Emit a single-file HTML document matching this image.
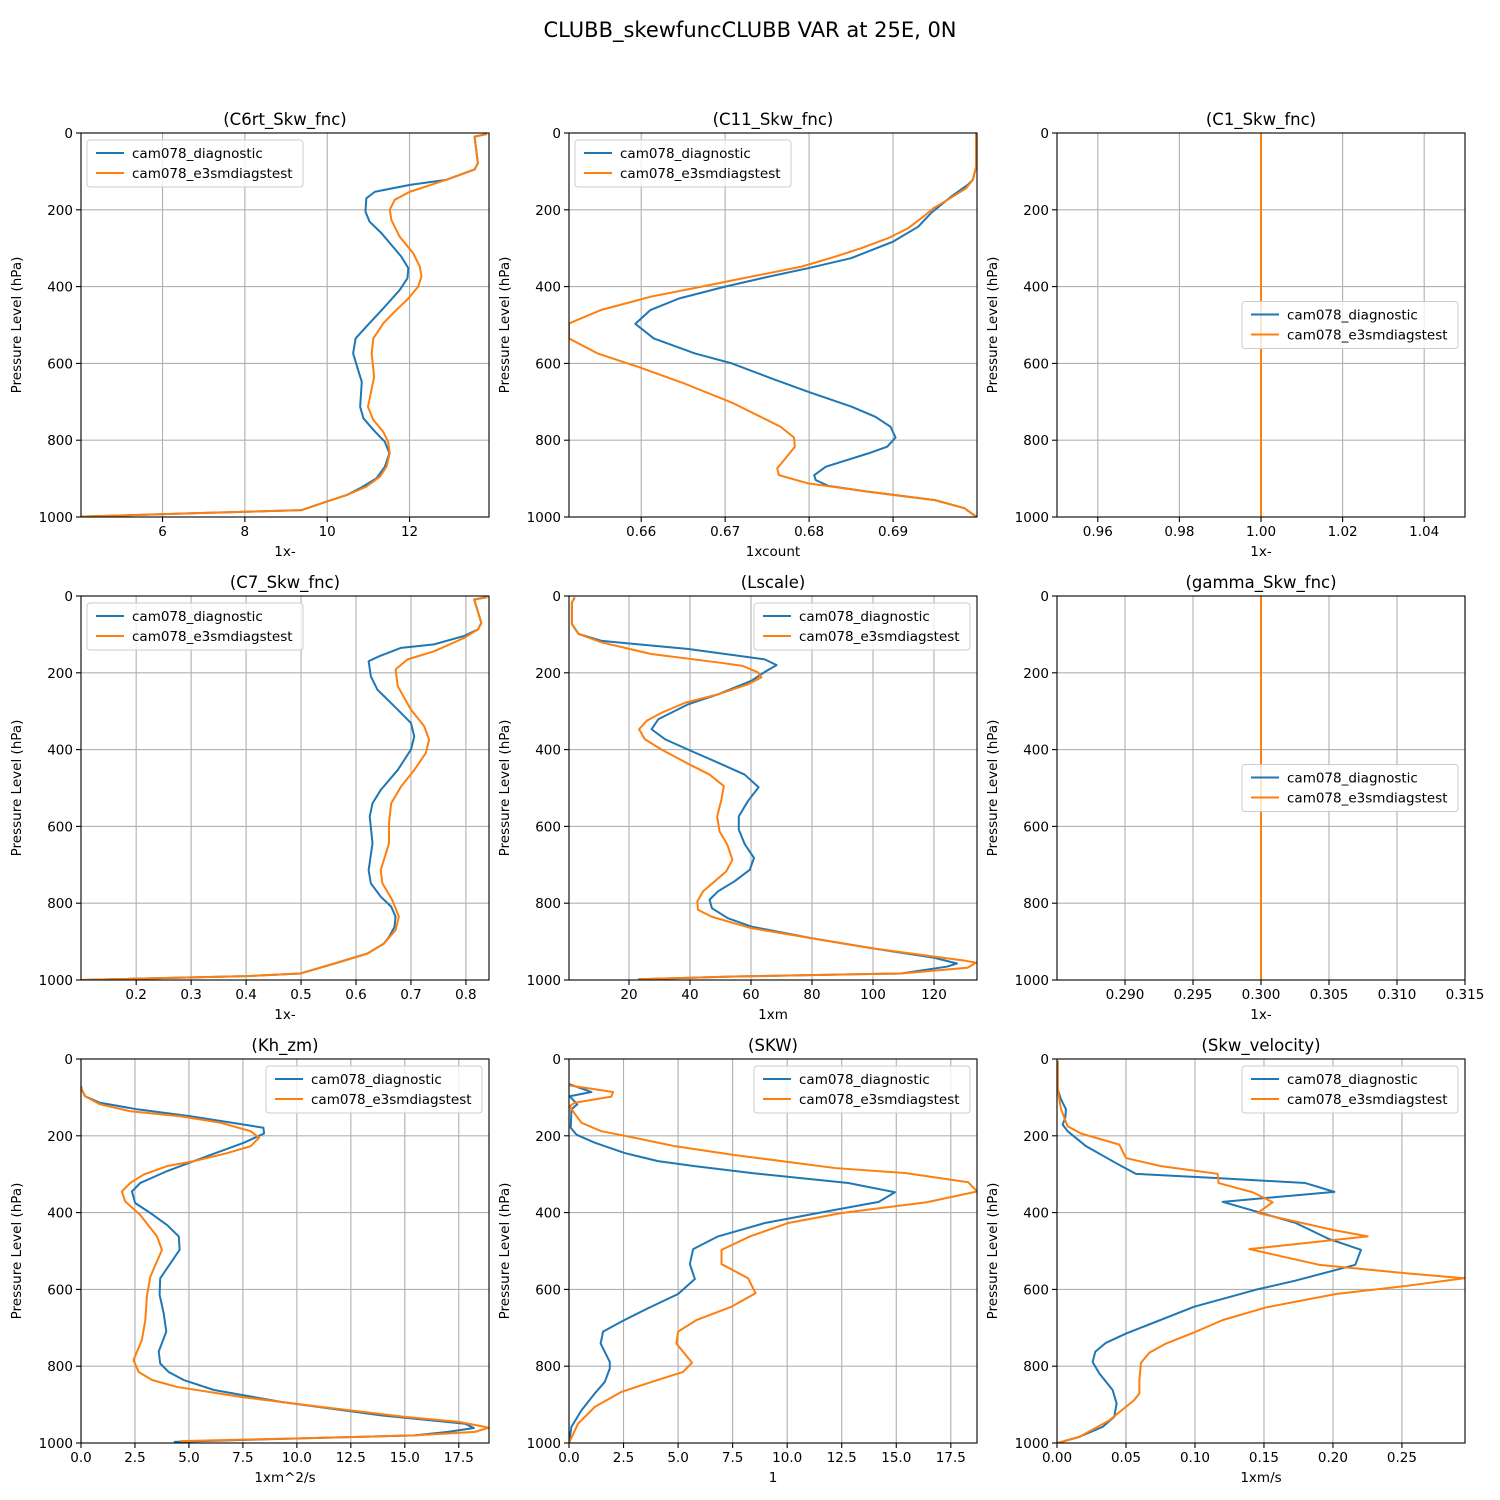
<!DOCTYPE html>
<html><head><meta charset="utf-8"><style>
html,body{margin:0;padding:0;background:#fff;}
svg{display:block;font-family:"DejaVu Sans","Liberation Sans",sans-serif;}
</style></head>
<body>
<svg id="fig" width="1500" height="1500" viewBox="0 0 1500 1500" xmlns="http://www.w3.org/2000/svg">
<rect width="1500" height="1500" fill="#fff"/>
<text x="750" y="37" font-size="21" text-anchor="middle">CLUBB_skewfuncCLUBB VAR at 25E, 0N</text>
</svg>
<script>
// ---- data arrays (pressure in hPa, values in data units) ----
const yTicks = [0,200,400,600,800,1000];
const yTickLabels = ["0","200","400","600","800","1000"];

const c6rtBlueP = [2.6,9.5,79,95,122,135,153,170,205,231,261,322,352,378,409,457,509,535,574,617,648,713,743,773,804,834,869,899,925,943,960,982,990,999];
const c6rtBlueV = [13.88,13.58,13.66,13.58,12.89,12.01,11.16,10.95,10.93,11.03,11.32,11.80,11.97,11.95,11.76,11.36,10.91,10.69,10.63,10.75,10.84,10.80,10.88,11.12,11.40,11.51,11.40,11.20,10.80,10.47,9.98,9.38,6.83,4.02];
const c6rtOrP = [2.6,9.5,79,95,122,153,174,200,227,270,313,348,374,400,431,465,496,535,574,635,656,713,747,778,804,834,869,895,921,943,960,982,990,999];
const c6rtOrV = [13.88,13.58,13.66,13.58,12.89,12.01,11.64,11.52,11.56,11.76,12.09,12.25,12.29,12.21,11.97,11.64,11.36,11.12,11.08,11.14,11.10,10.99,11.12,11.36,11.48,11.52,11.44,11.28,10.95,10.47,9.98,9.38,6.83,4.02];

const c11BlueP = [1,88,122,135,166,209,244,283,326,352,374,400,431,461,497,535,574,600,643,674,713,739,765,793,817,834,869,891,904,919,934,956,977,999];
const c11BlueV = [0.6999,0.6999,0.6995,0.6989,0.6969,0.6945,0.6930,0.6900,0.6850,0.6799,0.6752,0.6700,0.6645,0.6611,0.6593,0.6615,0.6664,0.6708,0.6760,0.6799,0.6851,0.6879,0.6897,0.6903,0.6893,0.6871,0.6820,0.6806,0.6808,0.6823,0.6870,0.6950,0.6985,0.6999];
const c11OrP = [1,88,122,144,174,196,218,248,274,300,322,348,374,400,426,461,496,535,574,608,652,704,765,793,817,847,873,891,912,934,956,977,999];
const c11OrV = [0.6999,0.6999,0.6995,0.6987,0.6965,0.6948,0.6936,0.6918,0.6894,0.6862,0.6831,0.6791,0.6731,0.6672,0.6612,0.6552,0.6514,0.6514,0.6548,0.6595,0.6651,0.6710,0.6766,0.6782,0.6783,0.6772,0.6762,0.6764,0.6798,0.6870,0.6950,0.6985,0.6999];

const constP = [0,100,200,300,400,500,600,700,800,900,1000];
const c1BlueV = [1,1,1,1,1,1,1,1,1,1,1];
const c1OrV = [1,1,1,1,1,1,1,1,1,1,1];

const c7BlueP = [3,9,70,87,104,126,135,157,170,209,244,296,331,366,400,453,505,540,574,644,714,748,783,809,835,862,888,905,931,957,983,990,1000];
const c7BlueV = [0.839,0.815,0.828,0.822,0.797,0.742,0.682,0.642,0.623,0.627,0.639,0.676,0.700,0.706,0.700,0.676,0.645,0.630,0.625,0.630,0.623,0.627,0.645,0.664,0.672,0.670,0.660,0.651,0.621,0.561,0.499,0.40,0.10];
const c7OrP = [3,9,70,87,109,144,165,191,235,296,339,374,409,453,496,540,592,644,714,748,792,835,870,905,931,957,983,990,1000];
const c7OrV = [0.839,0.815,0.828,0.822,0.797,0.742,0.694,0.672,0.676,0.700,0.724,0.733,0.727,0.706,0.682,0.664,0.660,0.660,0.645,0.648,0.666,0.678,0.672,0.651,0.621,0.561,0.499,0.40,0.10];

const lsBlueP = [3.5,16.5,73,99,117,138,165,180,195,221,256,282,321,347,373,404,434,465,498,534,574,608,647,682,713,743,769,791,813,839,861,891,917,942,957,965,983,991,998];
const lsBlueV = [2.19,1.28,1.28,3.5,11.1,39.5,64.5,68.4,65.1,60.1,49.2,39.4,29.6,27.4,31.8,40.5,49.2,57.9,62.5,59.0,56.0,56.0,58.0,61.0,59.6,54.6,49.2,46.4,47.2,52.4,60.1,79.7,99.4,120.1,127.5,124.4,109.2,54.6,23.0];
const lsOrP = [3.5,16.5,73,99,121,151,173,182,199,212,230,256,278,304,325,347,373,400,439,465,495,534,574,613,647,687,717,743,769,795,817,835,865,891,917,939,950,955,968,983,991,998];
const lsOrV = [2.19,1.28,1.28,3.5,11.1,27.3,49.2,57.3,62.3,63.4,59.0,49.2,38.4,30.7,25.8,23.3,25.2,30.7,39.9,46.4,51.1,50.2,48.9,49.7,52.2,53.9,51.9,48.1,44.3,42.4,42.6,47.0,60.1,79.7,99.4,120.1,130.4,133.7,131.0,109.2,54.6,23.0];

const c_gBlueV = [0.3,0.3,0.3,0.3,0.3,0.3,0.3,0.3,0.3,0.3,0.3];
const c_gOrV = [0.3,0.3,0.3,0.3,0.3,0.3,0.3,0.3,0.3,0.3,0.3];

const khBlueP = [70,79,97,114,131,149,171,179,194,218,253,292,323,345,375,401,432,462,497,571,614,662,710,762,793,815,836,862,893,928,950,961,971,980,987,997];
const khBlueV = [0,0.03,0.19,0.88,2.6,5.07,7.55,8.45,8.48,7.55,5.84,3.98,2.74,2.36,2.51,3.21,3.98,4.53,4.57,3.67,3.64,3.83,3.95,3.60,3.67,4.06,4.76,6.16,9.26,13.91,17.8,18.2,17.0,15.46,10.81,4.3];
const khOrP = [70,79,97,118,136,149,166,188,205,227,245,266,279,301,323,345,371,406,462,497,567,619,680,732,784,815,836,854,880,906,932,945,960,971,980,987,995];
const khOrV = [0,0.03,0.19,0.88,2.28,4.6,6.47,7.86,8.25,7.86,6.78,5.23,3.98,2.9,2.28,1.89,2.05,2.74,3.52,3.75,3.21,3.05,2.98,2.82,2.43,2.67,3.29,4.45,7.4,11.12,15.0,17.5,18.9,18.25,15.46,10.81,4.6];

const skwBlueP = [66,86,97,118,131,179,197,218,245,266,279,297,323,347,372,393,427,462,495,534,573,612,649,684,710,741,789,806,841,871,915,958,1000];
const skwBlueV = [0.03,1.03,0.03,0.38,0.11,0.08,0.34,1.18,2.56,4.08,5.76,8.36,12.8,14.94,14.2,12.19,8.98,6.83,5.69,5.54,5.77,5.0,3.62,2.4,1.56,1.45,1.87,1.87,1.64,1.18,0.57,0.11,0];
const skwOrP = [69,86,98,114,123,136,166,188,199,227,249,284,297,321,345,373,401,427,462,497,534,571,610,645,680,710,741,791,815,841,867,906,950,1000];
const skwOrV = [0.03,2.02,1.94,0.26,0.03,0.18,0.57,1.48,2.48,4.85,7.45,12.2,15.4,18.3,18.7,16.4,12.5,10.05,8.29,6.99,6.99,8.21,8.55,7.45,5.84,5.0,4.92,5.64,5.23,3.78,2.4,1.18,0.41,0];

const svBlueP = [5,79,105,131,153,171,188,227,271,299,310,323,346,372,427,469,497,536,577,601,645,715,739,762,789,819,862,897,932,958,984,1000];
const svBlueV = [0.0005,0.0005,0.0029,0.0065,0.006,0.0041,0.0077,0.021,0.0427,0.0572,0.1152,0.180,0.2010,0.120,0.173,0.1973,0.2203,0.2162,0.173,0.144,0.0995,0.050,0.0355,0.0278,0.0258,0.0307,0.0403,0.0432,0.0415,0.0331,0.0162,0.0005];
const svOrP = [5,79,131,175,194,223,258,279,299,323,347,373,401,445,462,495,536,558,571,591,612,647,680,710,741,765,791,836,871,888,941,984,1000];
const svOrV = [0.0005,0.0005,0.0029,0.0077,0.0174,0.0452,0.0500,0.0754,0.1164,0.1171,0.1418,0.1563,0.1454,0.1998,0.2251,0.1394,0.1901,0.2529,0.2952,0.2529,0.2022,0.1514,0.1200,0.1007,0.0790,0.0669,0.0609,0.0597,0.0597,0.0560,0.0379,0.0162,0.0005];

const xTicks1 = [6,8,10,12];            const xLabels1 = ["6","8","10","12"];
const xTicks2 = [0.66,0.67,0.68,0.69];  const xLabels2 = ["0.66","0.67","0.68","0.69"];
const xTicks3 = [0.96,0.98,1.00,1.02,1.04]; const xLabels3 = ["0.96","0.98","1.00","1.02","1.04"];
const xTicks4 = [0.2,0.3,0.4,0.5,0.6,0.7,0.8]; const xLabels4 = ["0.2","0.3","0.4","0.5","0.6","0.7","0.8"];
const xTicks5 = [20,40,60,80,100,120];  const xLabels5 = ["20","40","60","80","100","120"];
const xTicks6 = [0.290,0.295,0.300,0.305,0.310,0.315]; const xLabels6 = ["0.290","0.295","0.300","0.305","0.310","0.315"];
const xTicks7 = [0,2.5,5,7.5,10,12.5,15,17.5]; const xLabels7 = ["0.0","2.5","5.0","7.5","10.0","12.5","15.0","17.5"];
const xTicks8 = [0,2.5,5,7.5,10,12.5,15,17.5]; const xLabels8 = ["0.0","2.5","5.0","7.5","10.0","12.5","15.0","17.5"];
const xTicks9 = [0,0.05,0.10,0.15,0.20,0.25]; const xLabels9 = ["0.00","0.05","0.10","0.15","0.20","0.25"];

const panels = [
 {id:"c6rt", title:"(C6rt_Skw_fnc)", xl:"1x-", col:0,row:0, xmin:4.02,xmax:13.93, xt:xTicks1, xlab:xLabels1, bp:c6rtBlueP,bv:c6rtBlueV,op:c6rtOrP,ov:c6rtOrV, leg:"ul"},
 {id:"c11", title:"(C11_Skw_fnc)", xl:"1xcount", col:1,row:0, xmin:0.6514,xmax:0.7000, xt:xTicks2, xlab:xLabels2, bp:c11BlueP,bv:c11BlueV,op:c11OrP,ov:c11OrV, leg:"ul"},
 {id:"c1", title:"(C1_Skw_fnc)", xl:"1x-", col:2,row:0, xmin:0.95,xmax:1.05, xt:xTicks3, xlab:xLabels3, bp:constP,bv:c1BlueV,op:constP,ov:c1OrV, leg:"cr"},
 {id:"c7", title:"(C7_Skw_fnc)", xl:"1x-", col:0,row:1, xmin:0.0996,xmax:0.842, xt:xTicks4, xlab:xLabels4, bp:c7BlueP,bv:c7BlueV,op:c7OrP,ov:c7OrV, leg:"ul"},
 {id:"lscale", title:"(Lscale)", xl:"1xm", col:1,row:1, xmin:0.33,xmax:134.1, xt:xTicks5, xlab:xLabels5, bp:lsBlueP,bv:lsBlueV,op:lsOrP,ov:lsOrV, leg:"ur"},
 {id:"gamma", title:"(gamma_Skw_fnc)", xl:"1x-", col:2,row:1, xmin:0.285,xmax:0.315, xt:xTicks6, xlab:xLabels6, bp:constP,bv:c_gBlueV,op:constP,ov:c_gOrV, leg:"cr"},
 {id:"khzm", title:"(Kh_zm)", xl:"1xm^2/s", col:0,row:2, xmin:0,xmax:18.9, xt:xTicks7, xlab:xLabels7, bp:khBlueP,bv:khBlueV,op:khOrP,ov:khOrV, leg:"ur"},
 {id:"skw", title:"(SKW)", xl:"1", col:1,row:2, xmin:0,xmax:18.7, xt:xTicks8, xlab:xLabels8, bp:skwBlueP,bv:skwBlueV,op:skwOrP,ov:skwOrV, leg:"ur"},
 {id:"skwvel", title:"(Skw_velocity)", xl:"1xm/s", col:2,row:2, xmin:0,xmax:0.2957, xt:xTicks9, xlab:xLabels9, bp:svBlueP,bv:svBlueV,op:svOrP,ov:svOrV, leg:"ur"}
];

const NS = "http://www.w3.org/2000/svg";
const fig = document.getElementById("fig");
const colX = [81,569,1057], rowY = [133,596,1059], W = 408, H = 384;
function mk(tag, attrs, parent){ const e=document.createElementNS(NS,tag); for(const k in attrs) e.setAttribute(k,attrs[k]); (parent||fig).appendChild(e); return e; }

panels.forEach(pn=>{
  const L=colX[pn.col], T=rowY[pn.row];
  const g = mk("g",{});
  
  
  const xs = v => L + (v-pn.xmin)/(pn.xmax-pn.xmin)*W;
  const ys = p => T + p/1000*H;
  const cp = mk("clipPath",{id:"clip-"+pn.id},g);
  mk("rect",{x:L,y:T,width:W,height:H},cp);
  pn.xt.forEach((t,i)=>{
    const x=xs(t);
    const gl=mk("line",{x1:x,x2:x,y1:T,y2:T+H,stroke:"#b0b0b0","stroke-width":1.1},g);
    
    
    mk("line",{x1:x,x2:x,y1:T+H,y2:T+H+5,stroke:"#000","stroke-width":1.1},g);
    const tl=mk("text",{x:x,y:T+H+19,"font-size":13.5,"text-anchor":"middle"},g);
    tl.textContent=pn.xlab[i];
    
    
  });
  yTicks.forEach((t,i)=>{
    const y=ys(t);
    const gl=mk("line",{x1:L,x2:L+W,y1:y,y2:y,stroke:"#b0b0b0","stroke-width":1.1},g);
    
    
    mk("line",{x1:L-5,x2:L,y1:y,y2:y,stroke:"#000","stroke-width":1.1},g);
    const tl=mk("text",{x:L-8,y:y+5,"font-size":13.5,"text-anchor":"end"},g);
    tl.textContent=yTickLabels[i];
    
    
  });
  [[pn.bp,pn.bv,"#1f77b4","diagnostic-line"],[pn.op,pn.ov,"#ff7f0e","e3smdiagstest-line"]].forEach(s=>{
    const d=s[0].map((p,i)=>(i?"L":"M")+xs(s[1][i]).toFixed(2)+","+ys(p).toFixed(2)).join("");
    const path=mk("path",{d:d,fill:"none",stroke:s[2],"stroke-width":2,"stroke-linejoin":"round","clip-path":"url(#clip-"+pn.id+")"},g);
    
    
  });
  const fr=mk("rect",{x:L,y:T,width:W,height:H,fill:"none",stroke:"#000","stroke-width":1.1},g);
  
  
  const ti=mk("text",{x:L+W/2,y:T-8,"font-size":16.5,"text-anchor":"middle"},g);
  ti.textContent=pn.title;
  
  
  const xl=mk("text",{x:L+W/2,y:T+H+39,"font-size":13.5,"text-anchor":"middle"},g);
  xl.textContent=pn.xl;
  
  
  const yl=mk("text",{x:0,y:0,"font-size":13.5,"text-anchor":"middle",transform:"translate("+(L-60)+","+(T+H/2)+") rotate(-90)"},g);
  yl.textContent="Pressure Level (hPa)";
  
  
  const lw=216, lh=47;
  let lx, ly;
  if(pn.leg==="ul"){lx=L+6;ly=T+7;} else if(pn.leg==="ur"){lx=L+W-lw-7;ly=T+7;} else {lx=L+W-lw-7;ly=T+H/2-lh/2;}
  const lg=mk("g",{},g);
  
  
  mk("rect",{x:lx,y:ly,width:lw,height:lh,rx:3,fill:"#fff","fill-opacity":0.8,stroke:"#cccccc","stroke-width":1},lg);
  [["cam078_diagnostic","#1f77b4",13],["cam078_e3smdiagstest","#ff7f0e",33]].forEach(e=>{
    const le=mk("g",{},lg);
    
    
    mk("line",{x1:lx+9,x2:lx+37,y1:ly+e[2],y2:ly+e[2],stroke:e[1],"stroke-width":2},le);
    const t=mk("text",{x:lx+45,y:ly+e[2]+5,"font-size":13.5},le);
    t.textContent=e[0];
  });
});
</script>
</body></html>
